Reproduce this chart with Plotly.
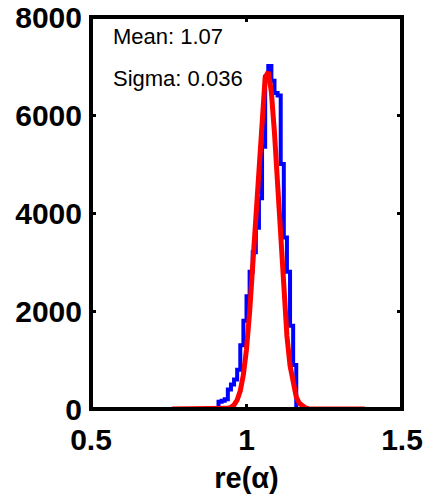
import plotly.graph_objects as go

# Blue histogram: left bin edges and counts (bin width 0.01)
bin_left = [0.91, 0.92, 0.93, 0.94, 0.95, 0.96, 0.97, 0.98, 0.99, 1.00,
            1.01, 1.02, 1.03, 1.04, 1.05, 1.06, 1.07, 1.08, 1.09, 1.10,
            1.11, 1.12, 1.13, 1.14, 1.15]
counts = [150, 170, 200, 400, 500, 600, 800, 1300, 1800, 2300,
          2800, 3200, 3700, 4300, 5350, 6780, 7000, 6700, 6450, 6400,
          5000, 3500, 2800, 1700, 900]
hist_start = 0.89
hist_end = 1.16

# Red fitted curve
fit_x = [0.76, 0.90, 0.92, 0.94, 0.95, 0.96, 0.97, 0.98, 0.99, 1.00,
         1.01, 1.02, 1.03, 1.04, 1.05, 1.06, 1.07, 1.08, 1.09, 1.10,
         1.11, 1.12, 1.13, 1.14, 1.15, 1.16, 1.17, 1.18, 1.19, 1.20,
         1.22, 1.38]
fit_y = [0, 0, 2, 14, 35, 83, 183, 372, 700, 1220,
         1970, 2940, 4070, 5210, 6170, 6770, 6880, 6465, 5630, 4535,
         3380, 2335, 1490, 883, 484, 245, 115, 50, 20, 7,
         0, 0]

x_ticks = [0.5, 1, 1.5]
x_tick_text = ["0.5", "1", "1.5"]
y_ticks = [0, 2000, 4000, 6000, 8000]
y_tick_text = ["0", "2000", "4000", "6000", "8000"]

mean_text = "Mean: 1.07"
sigma_text = "Sigma: 0.036"
x_title = "re(α)"

hx = [hist_start] + bin_left + [hist_end]
hy = [0] + counts + [0]

fig = go.Figure()
fig.add_trace(go.Scatter(x=hx, y=hy, mode="lines", line=dict(color="#0000ff", width=4, shape="hv"),
                         hoverinfo="skip", showlegend=False))
fig.add_trace(go.Scatter(x=fit_x, y=fit_y, mode="lines", line=dict(color="#ff0000", width=5),
                         hoverinfo="skip", showlegend=False))

font_family = "Liberation Sans, Arial, sans-serif"
fig.update_layout(
    width=426, height=495,
    margin=dict(l=91, r=24, t=17, b=86),
    paper_bgcolor="white", plot_bgcolor="white",
    showlegend=False,
    xaxis=dict(range=[0.5, 1.5], tickvals=x_ticks, ticktext=x_tick_text,
               showgrid=False, zeroline=False, showline=False, automargin=False,
               ticks="inside", ticklen=5, tickwidth=3, tickcolor="black", mirror="ticks",
               tickfont=dict(family=font_family, size=30, color="black", weight="bold"),
               ticklabelstandoff=10,
               title=dict(text=x_title, standoff=12,
                          font=dict(family=font_family, size=29, color="black", weight="bold"))),
    yaxis=dict(range=[0, 8000], tickvals=y_ticks, ticktext=y_tick_text,
               showgrid=False, zeroline=False, showline=False, automargin=False,
               ticks="inside", ticklen=5, tickwidth=3, tickcolor="black", mirror="ticks",
               tickfont=dict(family=font_family, size=30, color="black", weight="bold"),
               ticklabelstandoff=8),
    shapes=[dict(type="rect", xref="paper", yref="paper", x0=0, x1=1, y0=0, y1=1,
                 line=dict(color="black", width=4), layer="above")],
    annotations=[
        dict(text=mean_text, xref="paper", yref="paper", x=0.064, y=0.949,
             xanchor="left", yanchor="middle", showarrow=False,
             font=dict(family=font_family, size=22, color="black")),
        dict(text=sigma_text, xref="paper", yref="paper", x=0.064, y=0.844,
             xanchor="left", yanchor="middle", showarrow=False,
             font=dict(family=font_family, size=22, color="black")),
    ],
)

fig.write_html("out.html", config={"displayModeBar": False},
               post_script="document.body.style.margin='0';")
